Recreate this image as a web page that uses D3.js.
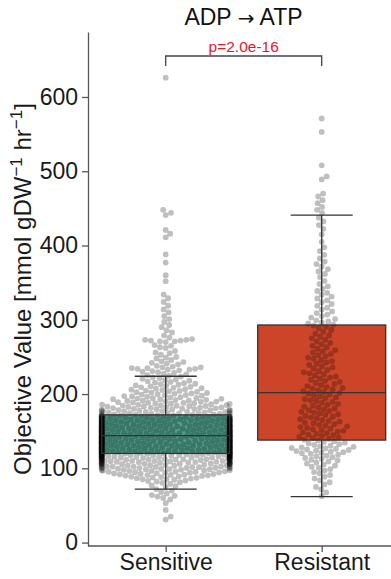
<!DOCTYPE html>
<html>
<head>
<meta charset="utf-8">
<script src="https://cdn.jsdelivr.net/npm/d3@7"></script>
<style>
  body { margin: 0; background: #fff; }
  svg text { font-family: "Liberation Sans", Arial, sans-serif; }
</style>
</head>
<body>
<svg id="chart" width="391" height="579"></svg>
<script>
// ---------------------------------------------------------------------------
// Data
// ---------------------------------------------------------------------------
const groups = ["Sensitive", "Resistant"];
const boxFill = ["#4f9f8b", "#cd4529"];

// box statistics per group
const boxQ1 = [120, 138];
const boxMedian = [144, 202];
const boxQ3 = [172, 293];
const whiskerLow = [72, 62];
const whiskerHigh = [224, 441];

const yTicks = [0, 100, 200, 300, 400, 500, 600];
const pLabel = "p=2.0e-16";

// Sensitive: sparse tails listed point by point, dense middle as 5-unit bin counts
const sensitiveHigh = [626, 448, 444, 441, 421, 416, 411, 388, 377, 360, 352,
  334, 329, 324, 319, 314, 310, 305, 301, 297, 293, 290, 286, 283, 279, 276,
  273, 272, 271, 271, 270, 272, 273, 274, 266, 265, 263, 262, 258, 256, 255,
  253, 250, 249, 248, 246, 244, 243, 242, 241, 240, 238, 237, 236, 236, 235,
  235, 234, 234, 233, 233, 232, 231, 230];
const sensitiveLow = [31, 35, 44, 53, 58, 60, 62, 63, 64, 66, 68, 70, 72, 74, 76, 77, 79];
const sensitiveBinStart = [80, 85, 90, 95, 100, 105, 110, 115, 120, 125, 130, 135,
  140, 145, 150, 155, 160, 165, 170, 175, 180, 185, 190, 195, 200, 205, 210, 215, 220, 225];
const sensitiveBinCount = [6, 10, 14, 18, 22, 26, 30, 34, 36, 36, 36, 36,
  36, 34, 33, 32, 31, 32, 20, 18, 16, 14, 12, 10, 9, 8, 7, 6, 5, 5];

// Resistant: top tail point by point, the rest as 10-unit bin counts
const resistantHigh = [444, 448, 452, 457, 461, 466, 470, 489, 493, 508, 553, 571];
const resistantBinStart = [60, 70, 80, 90, 100, 110, 120, 130, 140, 150, 160, 170,
  180, 190, 200, 210, 220, 230, 240, 250, 260, 270, 280, 290, 300, 310, 320, 330,
  340, 350, 360, 370, 380, 390, 400, 410, 420, 430];
const resistantBinCount = [2, 3, 4, 5, 7, 9, 14, 10, 10, 10, 9, 9,
  8, 8, 9, 7, 7, 6, 6, 6, 5, 5, 4, 7, 5, 4, 4, 4,
  3, 2, 3, 3, 2, 2, 1, 1, 2, 2];

// expand bin counts into values spread through each bin
function expandBins(starts, counts, width) {
  const out = [];
  starts.forEach((s, i) => {
    const n = counts[i];
    for (let k = 0; k < n; k++) out.push(s + (k + 0.5) * width / n);
  });
  return out;
}

const groupValues = [
  sensitiveLow.concat(expandBins(sensitiveBinStart, sensitiveBinCount, 5), sensitiveHigh),
  expandBins(resistantBinStart, resistantBinCount, 10).concat(resistantHigh)
];

// ---------------------------------------------------------------------------
// Scales
// ---------------------------------------------------------------------------
const svg = d3.select("#chart");
const W = 391, H = 579;
const plotLeft = 88, plotBottom = 546, plotTop = 32;

const y = d3.scaleLinear().domain([-4.6, 687.5]).range([plotBottom, plotTop]);
const x = d3.scalePoint().domain(groups).range([165.7, 321.7]);
const halfW = 64;
const dotR = 2.9;
const dotD = 5.8;

// simple beeswarm: place each point at the closest free offset from centre
function swarm(values) {
  const pts = values.map(v => ({ v, y: y(v) })).sort((a, b) => a.v - b.v);
  const placed = [];
  for (const p of pts) {
    const near = placed.filter(q => Math.abs(q.y - p.y) < dotD);
    const cands = [0];
    near.forEach(q => {
      const dx = Math.sqrt(dotD * dotD - (q.y - p.y) ** 2);
      cands.push(q.x + dx, q.x - dx);
    });
    cands.sort((a, b) => Math.abs(a) - Math.abs(b));
    p.x = cands.find(c => near.every(q => (q.x - c) ** 2 + (q.y - p.y) ** 2 >= dotD * dotD - 0.01));
    placed.push(p);
  }
  // corral into the box width (overflow piles up on the edges)
  pts.forEach(p => { p.x = Math.max(-halfW, Math.min(halfW, p.x)); });
  return pts;
}

// ---------------------------------------------------------------------------
// Drawing
// ---------------------------------------------------------------------------
svg.append("rect").attr("width", W).attr("height", H).attr("fill", "#fff");

// box fills
svg.append("g").selectAll("rect")
  .data(groups)
  .join("rect")
  .attr("x", d => x(d) - halfW)
  .attr("width", halfW * 2)
  .attr("y", (d, i) => y(boxQ3[i]))
  .attr("height", (d, i) => y(boxQ1[i]) - y(boxQ3[i]))
  .attr("fill", (d, i) => boxFill[i]);

// points
groups.forEach((g, i) => {
  svg.append("g")
    .selectAll("circle")
    .data(swarm(groupValues[i]))
    .join("circle")
    .attr("cx", d => x(g) + d.x)
    .attr("cy", d => d.y)
    .attr("r", dotR)
    .attr("fill", "#000")
    .attr("fill-opacity", 0.25);
});

// box outlines, medians, whiskers
const lineCol = "#333";
groups.forEach((g, i) => {
  const cx = x(g);
  const gg = svg.append("g").attr("stroke", lineCol).attr("stroke-width", 1.3).attr("fill", "none");
  gg.append("rect")
    .attr("x", cx - halfW).attr("width", halfW * 2)
    .attr("y", y(boxQ3[i])).attr("height", y(boxQ1[i]) - y(boxQ3[i]));
  gg.append("line").attr("x1", cx - halfW).attr("x2", cx + halfW)
    .attr("y1", y(boxMedian[i])).attr("y2", y(boxMedian[i]));
  gg.append("line").attr("x1", cx).attr("x2", cx)
    .attr("y1", y(boxQ3[i])).attr("y2", y(whiskerHigh[i]));
  gg.append("line").attr("x1", cx).attr("x2", cx)
    .attr("y1", y(boxQ1[i])).attr("y2", y(whiskerLow[i]));
  [whiskerLow[i], whiskerHigh[i]].forEach(v => {
    gg.append("line").attr("x1", cx - 31).attr("x2", cx + 31)
      .attr("y1", y(v)).attr("y2", y(v));
  });
});

// axes
const axisCol = "#555";
const yAxis = svg.append("g")
  .attr("transform", `translate(${plotLeft},0)`)
  .call(d3.axisLeft(y).tickValues(yTicks).tickSize(6).tickSizeOuter(0).tickPadding(4));
yAxis.select(".domain").attr("stroke", axisCol).attr("stroke-width", 1.3);
yAxis.selectAll(".tick line").attr("stroke", axisCol).attr("stroke-width", 1.3);
yAxis.selectAll(".tick text").attr("font-size", 23).attr("fill", "#1a1a1a")
  .style("font-family", "'Liberation Sans', Arial, sans-serif");

const xAxis = svg.append("g")
  .attr("transform", `translate(0,${plotBottom})`)
  .call(d3.axisBottom(x).tickSize(6).tickSizeOuter(0).tickPadding(2));
xAxis.select(".domain").remove();
xAxis.append("line").attr("x1", plotLeft).attr("x2", W).attr("stroke", axisCol).attr("stroke-width", 1.3);
xAxis.selectAll(".tick line").attr("stroke", axisCol).attr("stroke-width", 1.3);
xAxis.selectAll(".tick text").attr("font-size", 23).attr("fill", "#1a1a1a")
  .style("font-family", "'Liberation Sans', Arial, sans-serif");

// y title with superscripts
const yTitle = svg.append("text")
  .attr("transform", `translate(31,${(plotTop + plotBottom) / 2}) rotate(-90)`)
  .attr("text-anchor", "middle")
  .attr("font-size", 24)
  .attr("fill", "#1a1a1a");
yTitle.append("tspan").text("Objective Value [mmol gDW");
yTitle.append("tspan").attr("font-size", 17).attr("dy", -9).text("\u22121");
yTitle.append("tspan").attr("dy", 9).text(" hr");
yTitle.append("tspan").attr("font-size", 17).attr("dy", -9).text("\u22121");
yTitle.append("tspan").attr("dy", 9).text("]");

// title
const title = svg.append("text")
  .attr("x", 243.5).attr("y", 25)
  .attr("text-anchor", "middle")
  .attr("font-size", 23)
  .attr("fill", "#111");
title.append("tspan").text("ADP ");
title.append("tspan").style("font-family", "'DejaVu Sans', sans-serif").attr("font-size", 20).text("\u2192");
title.append("tspan").text(" ATP");

// significance bracket
const bracketY = 56;
svg.append("path")
  .attr("d", `M${x(groups[0])},${bracketY + 10}V${bracketY}H${x(groups[1])}V${bracketY + 10}`)
  .attr("fill", "none")
  .attr("stroke", "#444")
  .attr("stroke-width", 1.3);
svg.append("text")
  .attr("x", (x(groups[0]) + x(groups[1])) / 2).attr("y", 51.5)
  .attr("text-anchor", "middle")
  .attr("font-size", 15.5)
  .attr("fill", "#f0141e")
  .text(pLabel);
</script>
</body>
</html>
